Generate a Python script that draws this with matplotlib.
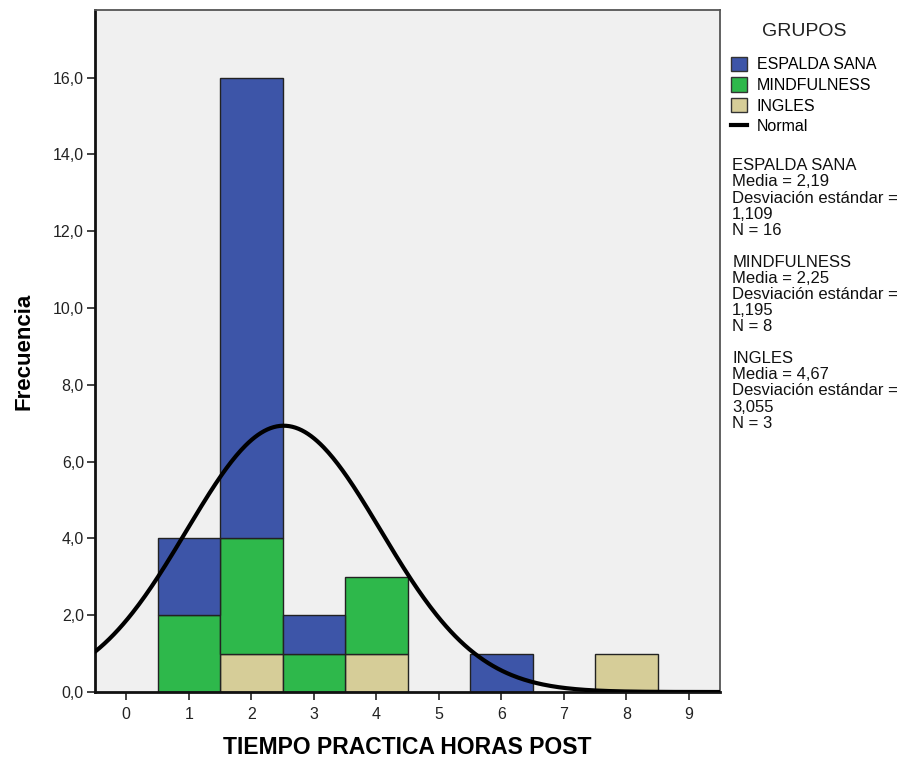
import numpy as np
import matplotlib.pyplot as plt
from matplotlib.patches import Patch
from matplotlib.lines import Line2D

plt.rcParams['font.family'] = ['Liberation Sans', 'DejaVu Sans']

# hours of practice (bin centres) and counts per group
horas = [1, 2, 3, 4, 6, 8]
ingles = [0, 1, 0, 1, 0, 1]
mindfulness = [2, 3, 1, 2, 0, 0]
espalda = [2, 12, 1, 0, 1, 0]

grupos = ['ESPALDA SANA', 'MINDFULNESS', 'INGLES']
colores = {'ESPALDA SANA': '#3d55a8', 'MINDFULNESS': '#2eb84b', 'INGLES': '#d6cd98'}

stats = ("ESPALDA SANA\nMedia = 2,19\nDesviación estándar =\n1,109\nN = 16\n\n"
         "MINDFULNESS\nMedia = 2,25\nDesviación estándar =\n1,195\nN = 8\n\n"
         "INGLES\nMedia = 4,67\nDesviación estándar =\n3,055\nN = 3")

fig = plt.figure(figsize=(9.05, 7.65), dpi=100)
ax = fig.add_axes([0.105, 0.0954, 0.6906, 0.8916])
ax.set_facecolor('#f0f0f0')

# stacked bars: INGLES at the bottom, then MINDFULNESS, then ESPALDA SANA
base = np.zeros(len(horas))
for nombre, valores in [('INGLES', ingles), ('MINDFULNESS', mindfulness), ('ESPALDA SANA', espalda)]:
    valores = np.array(valores, dtype=float)
    mask = valores > 0
    ax.bar(np.array(horas)[mask], valores[mask], bottom=base[mask], width=1.0,
           color=colores[nombre], edgecolor='#222222', linewidth=1.0, zorder=2)
    base += valores

# normal curve fitted to all observations, scaled to counts
totales = np.array(ingles) + np.array(mindfulness) + np.array(espalda)
obs = np.repeat(horas, totales)
mu, sd = obs.mean(), obs.std(ddof=1)
xs = np.linspace(-0.5, 9.5, 400)
ys = len(obs) * np.exp(-0.5 * ((xs - mu) / sd) ** 2) / (sd * np.sqrt(2 * np.pi))
ax.plot(xs, ys, color='black', linewidth=3.0, zorder=3, solid_capstyle='round')

ax.set_xlim(-0.5, 9.5)
ax.set_ylim(0, 17.76)
ax.set_xticks(range(10))
ax.set_yticks(np.arange(0, 17, 2))
ax.set_yticklabels([f'{v:.1f}'.replace('.', ',') for v in np.arange(0, 17, 2)])
ax.tick_params(axis='both', direction='out', length=6, width=1.2, labelsize=11.5, colors='#222222')
ax.tick_params(axis='x', pad=5)
ax.tick_params(axis='y', pad=2)
for s in ['left', 'bottom']:
    ax.spines[s].set_linewidth(2.0)
    ax.spines[s].set_color('#111111')
for s in ['top', 'right']:
    ax.spines[s].set_linewidth(1.3)
    ax.spines[s].set_color('#555555')

ax.set_xlabel('TIEMPO PRACTICA HORAS POST', fontsize=16.5, fontweight='bold', labelpad=10)
ax.set_ylabel('Frecuencia', fontsize=16, fontweight='bold', labelpad=13)

# legend
handles = [Patch(facecolor=colores[g], edgecolor='#333333', label=g) for g in grupos]
handles.append(Line2D([0], [0], color='black', linewidth=3.0, label='Normal'))
leg = fig.legend(handles=handles, loc='upper left', bbox_to_anchor=(0.808, 0.970),
                 frameon=False, title='GRUPOS', fontsize=11.5, title_fontsize=14,
                 handlelength=1.0, handleheight=1.0, handletextpad=0.6,
                 labelspacing=0.32, borderaxespad=0, borderpad=0)
leg.get_title().set_color('#222222')
leg._legend_box.sep = 12

fig.text(0.809, 0.793, stats, fontsize=12, va='top', ha='left', linespacing=1.09, color='#111111')

fig.savefig('out.png', dpi=100, facecolor='white')
